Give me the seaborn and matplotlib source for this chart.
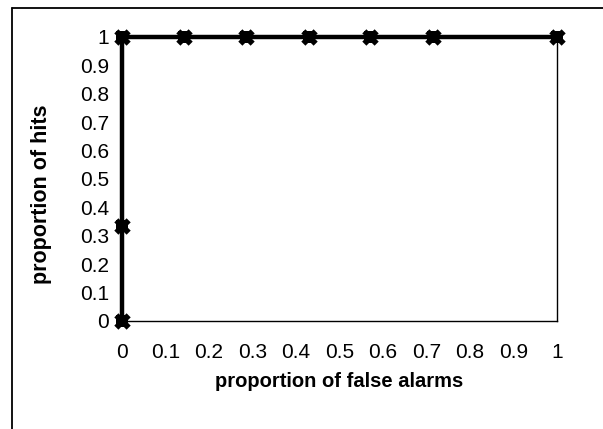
import matplotlib
matplotlib.use("Agg")
import matplotlib.pyplot as plt
import seaborn as sns
import pandas as pd
from matplotlib.lines import Line2D

false_alarms = [0.0, 0.0, 0.0, 0.143, 0.286, 0.429, 0.571, 0.714, 1.0]
hits = [0.0, 0.333, 1.0, 1.0, 1.0, 1.0, 1.0, 1.0, 1.0]
x_ticks = [0, 0.1, 0.2, 0.3, 0.4, 0.5, 0.6, 0.7, 0.8, 0.9, 1]
y_ticks = [0, 0.1, 0.2, 0.3, 0.4, 0.5, 0.6, 0.7, 0.8, 0.9, 1]
tick_labels = ["0", "0.1", "0.2", "0.3", "0.4", "0.5", "0.6", "0.7", "0.8", "0.9", "1"]

sns.set_theme(style="white")
plt.rcParams['font.family'] = ['Liberation Sans', 'DejaVu Sans']

df = pd.DataFrame({"fa": false_alarms, "hits": hits})

fig = plt.figure(figsize=(6.03, 4.29), dpi=100)
ax = fig.add_axes([122/603, 1 - 321/429, 435/603, 284/429])

sns.lineplot(data=df, x="fa", y="hits", sort=False, estimator=None, color="black", lw=3.2,
             marker="s", markersize=8.5, markeredgewidth=0, ax=ax, clip_on=False, zorder=3)
sns.scatterplot(data=df, x="fa", y="hits", marker="X", s=140, color="black",
                linewidth=0, ax=ax, clip_on=False, zorder=4)

ax.set_xlim(0, 1)
ax.set_ylim(0, 1)
ax.set_xticks(x_ticks)
ax.set_xticklabels(tick_labels, fontsize=15, color="black")
ax.set_yticks(y_ticks)
ax.set_yticklabels(tick_labels, fontsize=15, color="black")
ax.tick_params(axis="both", direction="inout", length=7, width=1, color="black")
ax.tick_params(axis="x", pad=12)
ax.tick_params(axis="y", pad=6)
for s in ["left", "bottom", "right"]:
    ax.spines[s].set_visible(True)
    ax.spines[s].set_color("black")
    ax.spines[s].set_linewidth(1.0)
ax.spines["top"].set_visible(False)

ax.set_xlabel("proportion of false alarms", fontsize=14.5, fontweight="bold", color="black")
ax.set_ylabel("proportion of hits", fontsize=15.5, fontweight="bold", color="black")
ax.xaxis.set_label_coords(0.5, -0.18)
ax.yaxis.set_label_coords(-0.161, 0.445)

# outer chart frame (left and top edges visible)
fig.add_artist(Line2D([12/603, 12/603], [0, 1 - 8/429], color="black", lw=1.3, transform=fig.transFigure))
fig.add_artist(Line2D([12/603, 1], [1 - 8/429, 1 - 8/429], color="black", lw=1.3, transform=fig.transFigure))

fig.savefig("out.png", dpi=100)
